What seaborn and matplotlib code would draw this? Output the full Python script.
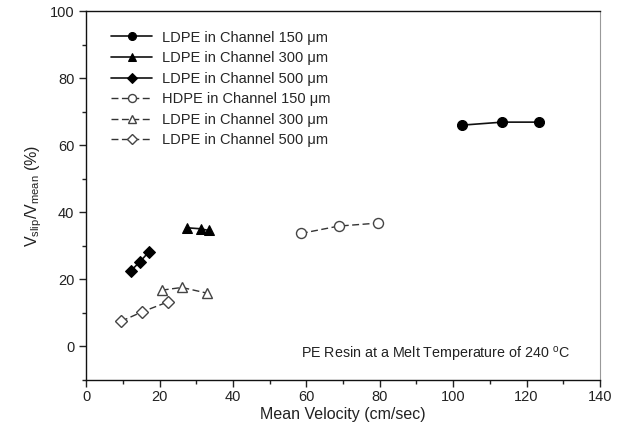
import pandas as pd
import numpy as np
import matplotlib
matplotlib.use('Agg')
import matplotlib.pyplot as plt
from matplotlib.ticker import MultipleLocator
import seaborn as sns

# values
ldpe150_x = [102.4, 113.4, 123.5]
ldpe150_y = [66.0, 66.9, 66.9]
ldpe300_x = [27.4, 31.2, 33.4]
ldpe300_y = [35.4, 35.1, 34.6]
ldpe500_x = [12.2, 14.7, 17.0]
ldpe500_y = [22.6, 25.3, 28.1]
hdpe150_x = [58.5, 68.8, 79.5]
hdpe150_y = [33.7, 35.9, 36.8]
ldpe300b_x = [20.6, 26.1, 33.0]
ldpe300b_y = [16.8, 17.6, 15.9]
ldpe500b_x = [9.5, 15.2, 22.3]
ldpe500b_y = [7.5, 10.3, 13.3]

labels = ['LDPE in Channel 150 \u03bcm', 'LDPE in Channel 300 \u03bcm',
          'LDPE in Channel 500 \u03bcm', 'HDPE in Channel 150 \u03bcm',
          'LDPE in Channel 300 \u03bcm', 'LDPE in Channel 500 \u03bcm']

sns.set_style('ticks')
plt.rcParams['font.family'] = ['Liberation Sans', 'DejaVu Sans']
plt.rcParams['mathtext.default'] = 'regular'

fig = plt.figure(figsize=(6.24, 4.45), dpi=100)
ax = fig.add_axes([0.138, 0.146, 0.8235, 0.829])

series = [
    (ldpe150_x, ldpe150_y, 'o', True, 7.2),
    (ldpe300_x, ldpe300_y, '^', True, 7.2),
    (ldpe500_x, ldpe500_y, 'D', True, 6.2),
    (hdpe150_x, hdpe150_y, 'o', False, 7.2),
    (ldpe300b_x, ldpe300b_y, '^', False, 7.2),
    (ldpe500b_x, ldpe500b_y, 'D', False, 6.2),
]

for (xs, ys, mk, filled, ms), lab in zip(series, labels):
    df = pd.DataFrame({'x': xs, 'y': ys})
    if filled:
        sns.lineplot(data=df, x='x', y='y', ax=ax, label=lab, color='#111111',
                     marker=mk, markersize=ms, markerfacecolor='black',
                     markeredgecolor='black', linewidth=1.2)
    else:
        sns.lineplot(data=df, x='x', y='y', ax=ax, label=lab, color='#333333',
                     marker=mk, markersize=ms, markerfacecolor='white',
                     markeredgecolor='#444444', markeredgewidth=1.0,
                     linewidth=1.0, dashes=(5, 2.5))

ax.set_xlim(0, 140)
ax.set_ylim(-10, 100)
ax.xaxis.set_major_locator(MultipleLocator(20))
ax.xaxis.set_minor_locator(MultipleLocator(10))
ax.yaxis.set_major_locator(MultipleLocator(20))
ax.yaxis.set_minor_locator(MultipleLocator(10))
ax.tick_params(which='major', direction='out', length=5, width=1, labelsize=10.5,
               colors='#222222')
ax.tick_params(axis='x', which='major', pad=2)
ax.tick_params(which='minor', direction='out', length=3, width=1, colors='#222222')
for side in ['left', 'bottom', 'top']:
    ax.spines[side].set_color('#111111')
    ax.spines[side].set_linewidth(1.0)
ax.spines['right'].set_color('#999999')
ax.spines['right'].set_visible(True)
ax.spines['top'].set_visible(True)

ax.set_xlabel('Mean Velocity (cm/sec)', fontsize=11.5, color='#222222', labelpad=2)
ax.set_ylabel('V$_{slip}$/V$_{mean}$ (%)', fontsize=11.5, color='#222222', labelpad=4)

ax.text(58.6, -2.3, 'PE Resin at a Melt Temperature of 240 $^{o}$C', fontsize=10.3,
        color='#222222', ha='left', va='center')

leg = ax.legend(loc='upper left', bbox_to_anchor=(0.029, 0.975), frameon=False,
                fontsize=10.5, handlelength=2.8, handletextpad=0.7,
                labelspacing=0.45, borderaxespad=0.3, markerscale=0.8)

fig.savefig('out.png', dpi=100)
